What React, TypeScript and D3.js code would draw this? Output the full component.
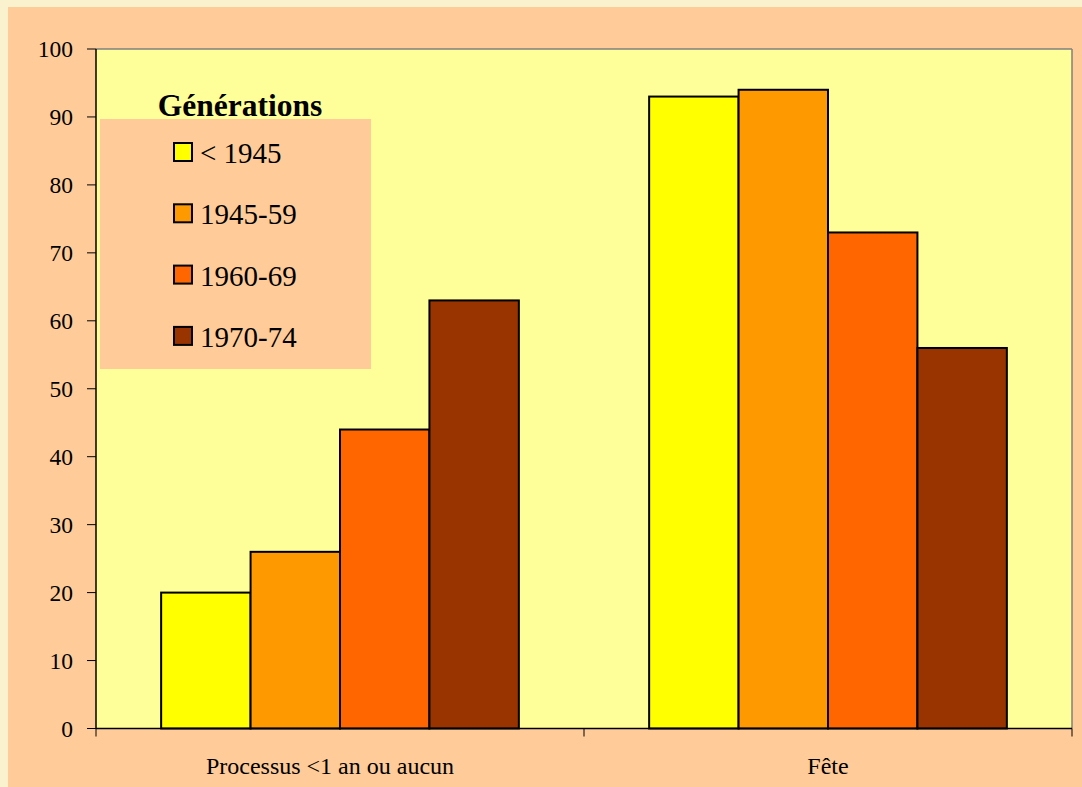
import React from "react";
import * as d3 from "d3";

const categories = ["Processus <1 an ou aucun", "Fête"];
const seriesNames = ["< 1945", "1945-59", "1960-69", "1970-74"];
const seriesColors = ["#FFFF00", "#FF9900", "#FF6600", "#993300"];
const values: number[][] = [
  [20, 26, 44, 63], // Processus <1 an ou aucun
  [93, 94, 73, 56], // Fête
];
const yTicks = [0, 10, 20, 30, 40, 50, 60, 70, 80, 90, 100];

const W = 1082;
const H = 787;
const FONT = "'Liberation Serif', 'Times New Roman', serif";

export default function App() {
  const plot = { left: 96, right: 1072, top: 49, bottom: 728.5 };
  const y = d3.scaleLinear().domain([0, 100]).range([plot.bottom, plot.top]);
  const x0 = d3.scaleBand<string>().domain(categories).range([plot.left, plot.right]).padding(0);
  const groupFrac = 0.733;
  const groupW = x0.bandwidth() * groupFrac;
  const x1 = d3.scaleBand<string>().domain(seriesNames).range([0, groupW]).padding(0);

  const legend = { x: 100, y: 119, w: 271, h: 250 };
  const legendRowY = (i: number) => 152 + i * 61.3;

  return (
    <div style={{ position: "fixed", left: 0, top: 0, width: W, height: H }}>
      <svg width={W} height={H} style={{ display: "block" }} fontFamily={FONT}>
        <rect x={0} y={0} width={W} height={H} fill="#FAF2CE" />
        <rect x={8} y={7} width={W - 8} height={H - 7} fill="#FFCC99" />
        <rect
          x={plot.left}
          y={plot.top}
          width={plot.right - plot.left}
          height={plot.bottom - plot.top}
          fill="#FFFF99"
        />
        {/* plot border top/right */}
        <line x1={plot.left} x2={plot.right} y1={plot.top} y2={plot.top} stroke="#808080" strokeWidth={1.5} />
        <line x1={plot.right} x2={plot.right} y1={plot.top} y2={plot.bottom} stroke="#808080" strokeWidth={1.5} />

        {/* legend background */}
        <rect x={legend.x} y={legend.y} width={legend.w} height={legend.h} fill="#FFCC99" />

        {/* bars */}
        {categories.map((c, ci) => {
          const gx = (x0(c) as number) + (x0.bandwidth() - groupW) / 2;
          return (
            <g key={c}>
              {seriesNames.map((s, si) => (
                <rect
                  key={s}
                  x={gx + (x1(s) as number)}
                  y={y(values[ci][si])}
                  width={x1.bandwidth()}
                  height={y(0) - y(values[ci][si])}
                  fill={seriesColors[si]}
                  stroke="#000"
                  strokeWidth={2}
                />
              ))}
            </g>
          );
        })}

        {/* axes */}
        <line x1={plot.left} x2={plot.left} y1={plot.top} y2={plot.bottom} stroke="#000" strokeWidth={1.5} />
        <line x1={plot.left} x2={plot.right} y1={plot.bottom} y2={plot.bottom} stroke="#000" strokeWidth={1.5} />
        {yTicks.map((t) => (
          <g key={t}>
            <line x1={plot.left - 9} x2={plot.left} y1={y(t)} y2={y(t)} stroke="#000" strokeWidth={1} />
            <text x={73} y={y(t)} dy="0.35em" textAnchor="end" fontSize={23.5} fill="#000">
              {t}
            </text>
          </g>
        ))}
        {[...categories.map((c) => x0(c) as number), plot.right].map((xv, i) => (
          <line key={i} x1={xv} x2={xv} y1={plot.bottom} y2={plot.bottom + 8} stroke="#000" strokeWidth={1} />
        ))}
        {categories.map((c) => (
          <text
            key={c}
            x={(x0(c) as number) + x0.bandwidth() / 2 - (c.length > 5 ? 10 : 0)}
            y={774}
            textAnchor="middle"
            fontSize={24}
            fill="#000"
          >
            {c}
          </text>
        ))}

        {/* legend */}
        <text x={240} y={116} textAnchor="middle" fontSize={31.5} fontWeight="bold" fill="#000">
          Générations
        </text>
        {seriesNames.map((s, i) => (
          <g key={s}>
            <rect
              x={174}
              y={legendRowY(i) - 9}
              width={18}
              height={18}
              fill={seriesColors[i]}
              stroke="#000"
              strokeWidth={2}
            />
            <text x={200} y={legendRowY(i) + 11} fontSize={29} fill="#000">
              {s}
            </text>
          </g>
        ))}
      </svg>
    </div>
  );
}
